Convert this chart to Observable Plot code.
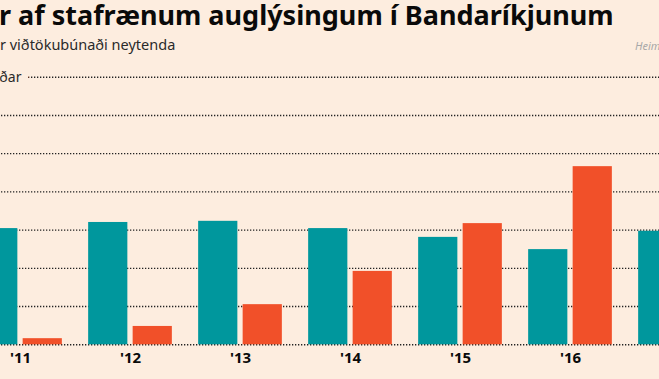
<!DOCTYPE html>
<html><head><meta charset="utf-8">
<script src="https://cdn.jsdelivr.net/npm/d3@7"></script>
<script src="https://cdn.jsdelivr.net/npm/@observablehq/plot@0.6"></script>
<style>
html,body{margin:0;padding:0;background:#FDEDDF;}
#wrap{position:relative;width:659px;height:379px;overflow:hidden;background:#FDEDDF;font-family:"Noto Sans",sans-serif;}
.t{position:absolute;white-space:nowrap;line-height:1;}
#title{top:1px;font-weight:700;font-size:27px;color:#0a0a0a;}
#sub{top:36.6px;font-size:14.5px;color:#2a2a2a;}
#src{top:40.2px;left:635px;font-size:11px;font-style:italic;color:#a8a8a8;}
#chart{position:absolute;left:-100px;top:60px;width:900px;height:319px;}
#chart svg{max-width:none !important;width:900px !important;height:319px !important;}
</style></head>
<body>
<div id="wrap">
  <div class="t" id="title"><span id="tpre">Tekju</span>r af stafrænum auglýsingum í Bandaríkjunum</div>
  <div class="t" id="sub"><span id="spre">Efti</span>r viðtökubúnaði neytenda</div>
  <div class="t" id="src">Heimild: IAB</div>
  <div id="chart"></div>
</div>
<script>
// Data
const years = ["'11", "'12", "'13", "'14", "'15", "'16", "'17"];
const desktop = [30.4, 32.0, 32.3, 30.4, 28.1, 24.9, 29.7];   // tölvur (teal)
const mobile  = [1.6, 4.8, 10.5, 19.2, 31.7, 46.6, null];      // snjalltæki (orange)
const yTicks = [0, 10, 20, 30, 40, 50, 60, 70];
const yUnit = "milljarðar";

const bg = "#FDEDDF", teal = "#00979D", orange = "#F15029";

const deskRows = years.map((y, i) => ({year: y, value: desktop[i]}));
const mobRows = years.map((y, i) => ({year: y, value: mobile[i]})).filter(d => d.value != null);

const step = 110.8;
const x0 = 62;
const fmt = d => d === 70 ? `${d} ${yUnit}` : `${d}`;

const chart = Plot.plot({
  width: 900,
  height: 319,
  marginLeft: 38,
  marginRight: 0,
  marginTop: 16.7,
  marginBottom: 34.7,
  x: {type: "band", domain: years, range: [x0, x0 + years.length * step], padding: 0, axis: null},
  y: {domain: [0, 70], axis: null},
  style: {background: "transparent", overflow: "visible"},
  marks: [
    Plot.ruleY(yTicks, {y: d => d, stroke: "#222", strokeWidth: 1.4, strokeDasharray: "1.3 1.7"}),
    Plot.text(yTicks, {y: d => d, text: fmt, frameAnchor: "left", textAnchor: "start", fontSize: 14,
      fontFamily: "Noto Sans", fill: bg, stroke: bg, strokeWidth: 14, strokeLinejoin: "round"}),
    Plot.text(yTicks, {y: d => d, text: fmt, frameAnchor: "left", textAnchor: "start", fontSize: 14,
      fontFamily: "Noto Sans", fill: "#2a2a2a"}),
    Plot.barY(deskRows, {x: "year", y: "value", fill: teal, insetLeft: 13.15, insetRight: 57.65}),
    Plot.barY(mobRows, {x: "year", y: "value", fill: orange, insetLeft: 57.65, insetRight: 13.15}),
    Plot.text(years, {x: d => d, text: d => d, frameAnchor: "bottom", dy: 18, fontSize: 15,
      fontWeight: "bold", fontFamily: "Noto Sans", fill: "#0a0a0a"})
  ]
});
document.getElementById("chart").appendChild(chart);

const tpre = document.getElementById("tpre");
document.getElementById("title").style.left = (-tpre.getBoundingClientRect().width - 1) + "px";
const spre = document.getElementById("spre");
document.getElementById("sub").style.left = (-spre.getBoundingClientRect().width) + "px";
</script>
</body></html>
